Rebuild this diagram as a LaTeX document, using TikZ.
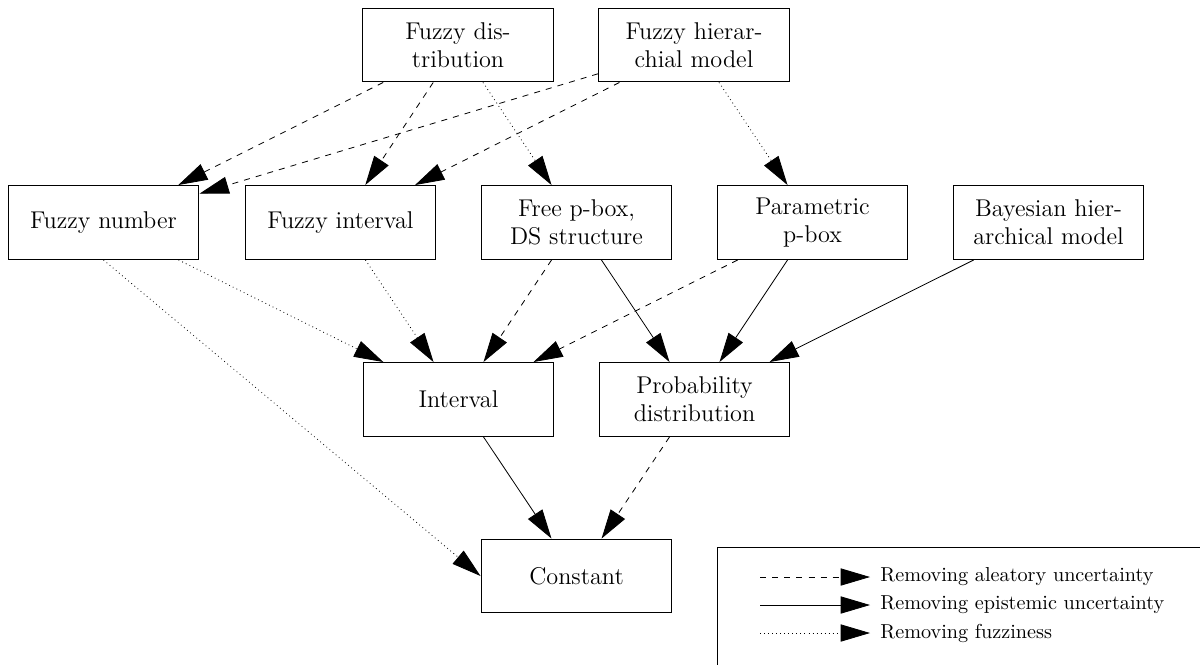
\documentclass[tikz,border=0pt]{standalone}
\usetikzlibrary{arrows.meta}
\begin{document}
\begin{tikzpicture}[x=0.495pt,y=-0.495pt,
  box/.style={draw, line width=0.5pt, minimum width=94.5pt, minimum height=36.6pt, inner sep=0pt, align=center, font=\large},
  conn/.style={-{Triangle[length=14.5pt,width=8.5pt]}, line width=0.4pt},
  alea/.style={conn, dashed},
  epis/.style={conn},
  fuzz/.style={conn, dash pattern=on 0.4pt off 1.6pt},
  legtext/.style={anchor=west, inner sep=0pt}]
\useasboundingbox (0,0) rectangle (1200,664);
\clip (0,0) rectangle (1200,664);
% top row
\node[box] (fd) at (458,45) {Fuzzy dis-\\tribution};
\node[box] (fh) at (694,45) {Fuzzy hierar-\\chial model};
% second row
\node[box] (fn) at (103.5,222.5) {Fuzzy number};
\node[box] (fi) at (340.5,222.5) {Fuzzy interval};
\node[box] (fp) at (576.5,222.5) {Free p-box,\\DS structure};
\node[box] (pp) at (812.5,222.5) {Parametric\\p-box};
\node[box] (bh) at (1048.5,222.5) {Bayesian hier-\\archical model};
% third row
\node[box] (iv) at (458.5,399.5) {Interval};
\node[box] (pd) at (694.5,399.5) {Probability\\distribution};
% bottom
\node[box] (cs) at (576.5,576) {Constant};
% connectors
\draw[alea] (fd) -- (fn);
\draw[alea] (fd) -- (fi);
\draw[fuzz] (fd) -- (fp);
\draw[alea] (fh) -- (fn);
\draw[alea] (fh) -- (fi);
\draw[fuzz] (fh) -- (pp);
\draw[fuzz] (fn) -- (iv);
\draw[fuzz] (fn.south) -- (cs.west);
\draw[fuzz] (fi) -- (iv);
\draw[alea] (fp) -- (iv);
\draw[epis] (fp) -- (pd);
\draw[alea] (pp) -- (iv);
\draw[epis] (pp) -- (pd);
\draw[epis] (bh) -- (pd);
\draw[epis] (iv) -- (cs);
\draw[alea] (pd) -- (cs);
% legend
\draw[line width=0.5pt] (1230,547) -- (717,547) -- (717,700);
\coordinate (a1) at (760,577);
\coordinate (a2) at (870,577);
\coordinate (b1) at (760,605);
\coordinate (b2) at (870,605);
\coordinate (c1) at (760,633);
\coordinate (c2) at (870,633);
\draw[alea] (a1) -- (a2);
\draw[epis] (b1) -- (b2);
\draw[fuzz] (c1) -- (c2);
\node[legtext] (la) at (880,577) {Removing aleatory uncertainty};
\node[legtext] (lb) at (880,605) {Removing epistemic uncertainty};
\node[legtext] (lc) at (880,633) {Removing fuzziness};
\end{tikzpicture}
\end{document}
